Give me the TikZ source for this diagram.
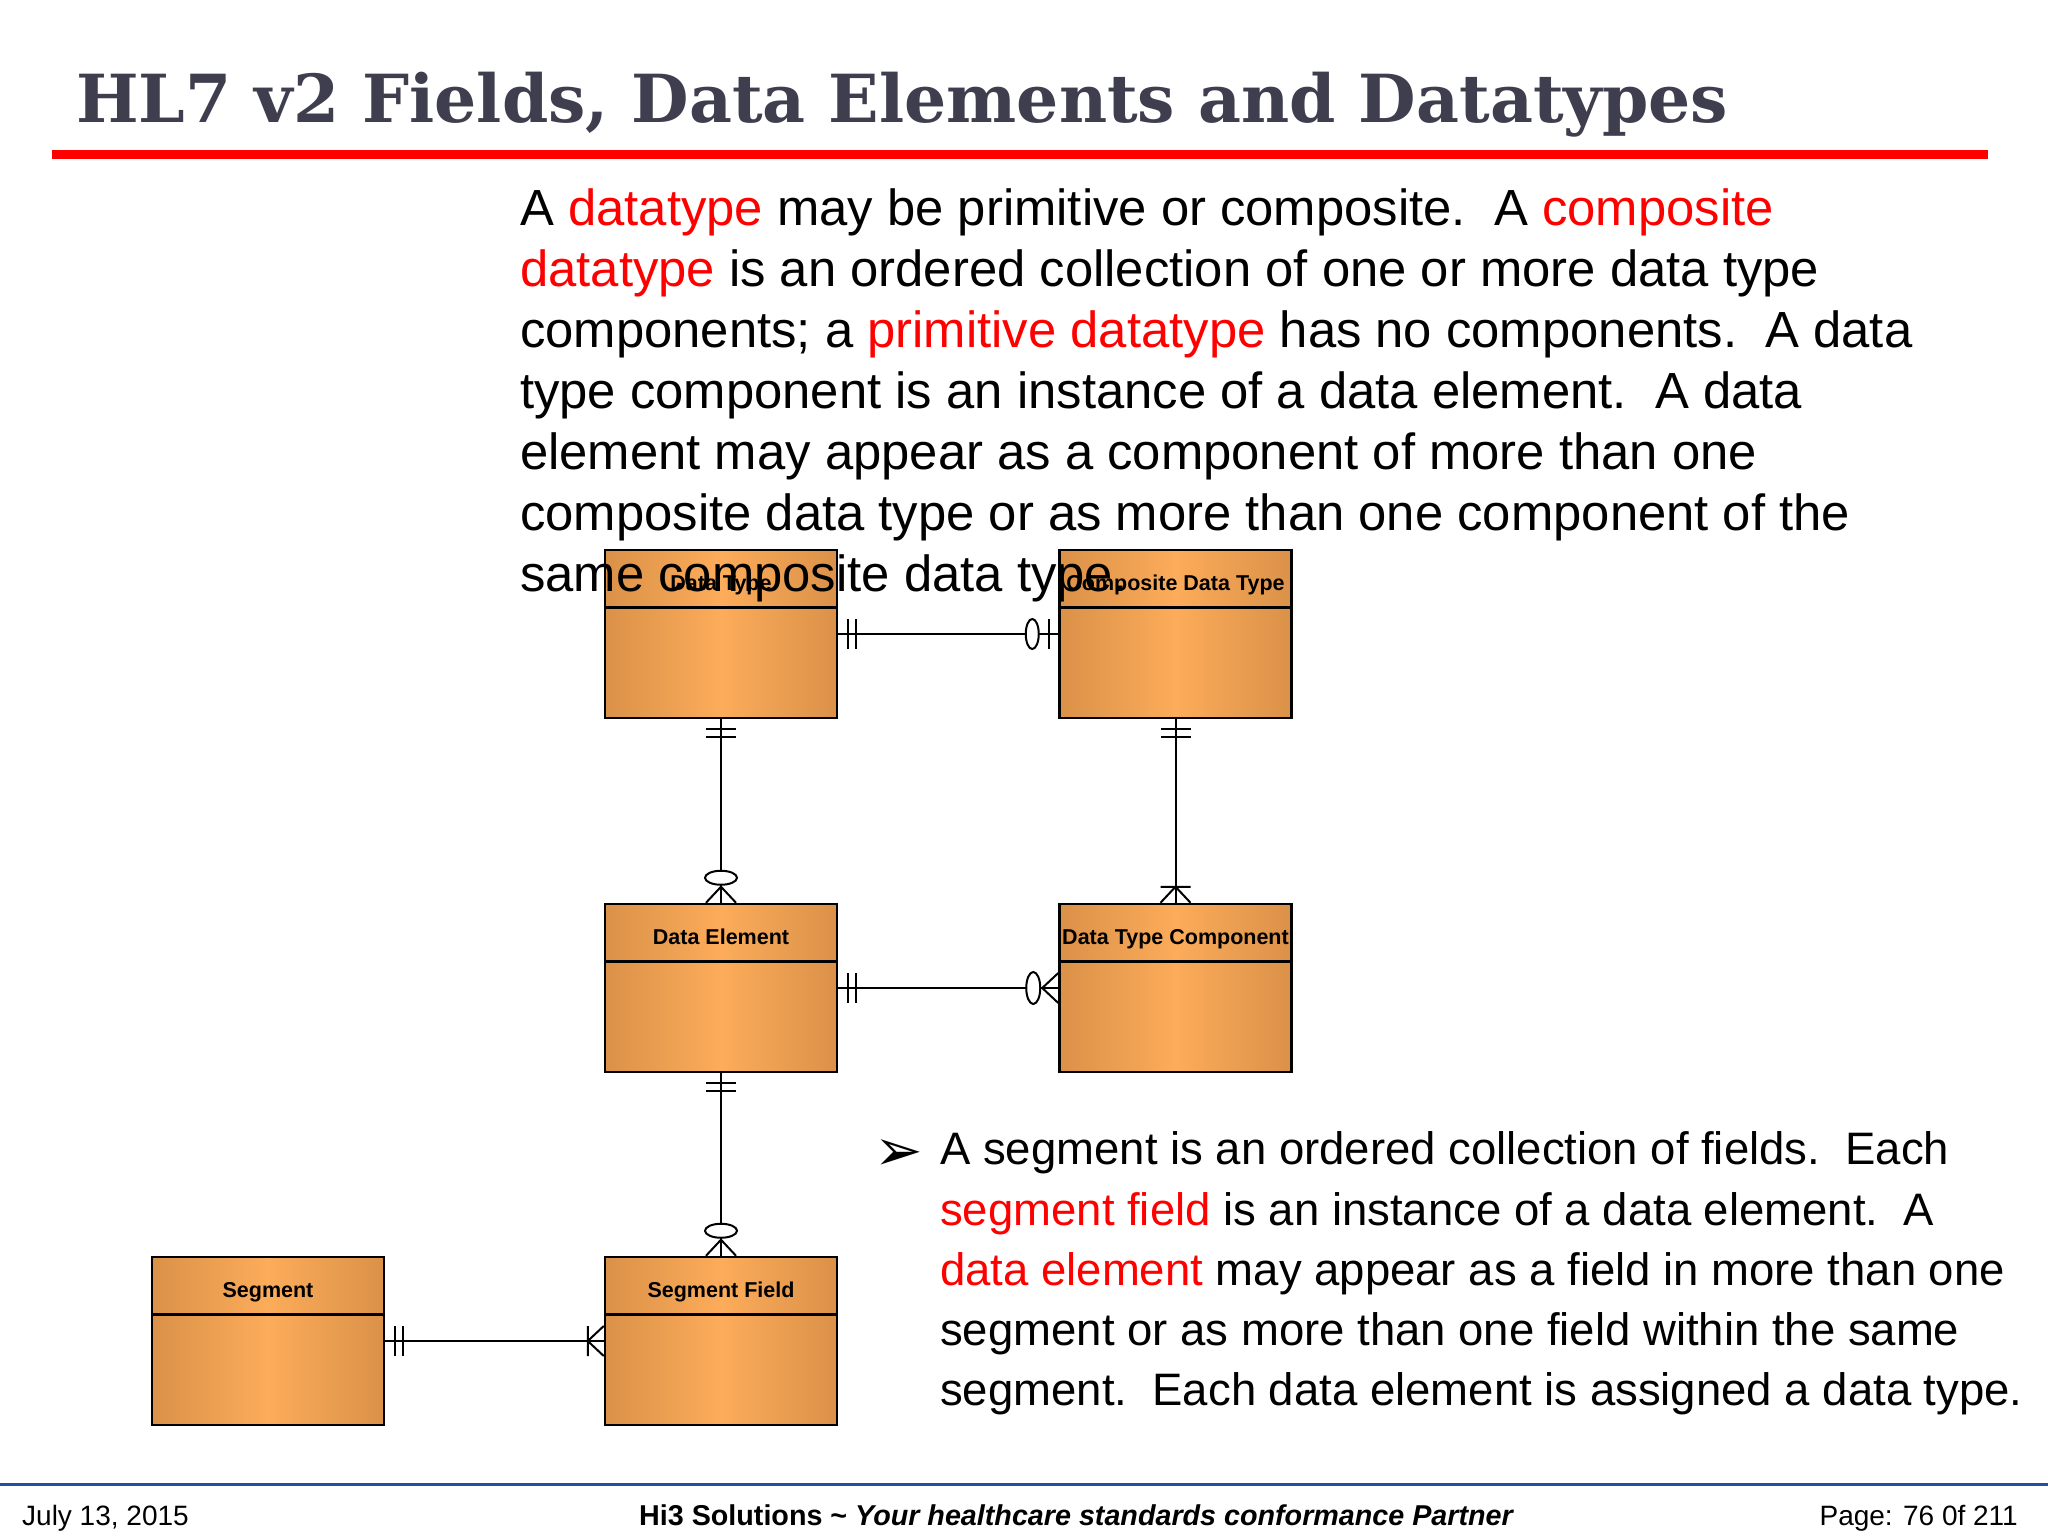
\documentclass[tikz,border=0pt]{standalone}
\usepackage{fontspec}
\setmainfont{Liberation Sans}
\newfontfamily\titlefont{DejaVu Serif}
\newfontfamily\symbolfont{DejaVu Sans}
\usetikzlibrary{decorations.markings}
\definecolor{titlegray}{RGB}{62,62,78}
\definecolor{slidered}{RGB}{255,0,0}
\definecolor{boxedge}{RGB}{218,145,72}
\definecolor{boxmid}{RGB}{252,172,90}
\definecolor{footerblue}{RGB}{32,82,158}
\newcommand{\hl}[1]{\textcolor{slidered}{#1}}
\tikzset{>=latex}
\tikzstyle{entity}=[draw, line width=2.5pt, minimum width=232pt, minimum height=168pt, inner sep=0pt,
  left color=boxedge, right color=boxedge, middle color=boxmid,
  path picture={\draw[line width=2.5pt] ([yshift=-57.5pt]path picture bounding box.north west)
    -- ([yshift=-57.5pt]path picture bounding box.north east);}]
\tikzstyle{entitylabel}=[anchor=base, inner sep=0pt, font=\bfseries\fontsize{21.5}{24}\selectfont]
\tikzstyle{bodytext}=[anchor=base west, inner sep=0pt, font=\fontsize{50.8}{61}\selectfont]
\tikzstyle{bullettext}=[anchor=base west, inner sep=0pt, font=\fontsize{45.5}{60}\selectfont]
\tikzstyle{footertext}=[inner sep=0pt, font=\fontsize{28}{30}\selectfont]
\tikzstyle{relation}=[line width=2pt]
\tikzstyle{crow}=[line width=2pt]
\newcommand{\entity}{\node[entity]}
% crow's foot ends, measured from the entity edge
\tikzset{
  one start/.style={postaction={decorate, decoration={markings,
    mark=at position 10pt with {\draw[crow] (0,-15) -- (0,15);},
    mark=at position 18pt with {\draw[crow] (0,-15) -- (0,15);}}}},
  zero one end/.style={postaction={decorate, decoration={markings,
    mark=at position -26pt with {\draw[crow, fill=white] (0,0) ellipse [x radius=6.5, y radius=15];},
    mark=at position -9pt with {\draw[crow] (0,-15) -- (0,15);}}}},
  zero many end/.style={postaction={decorate, decoration={markings,
    mark=at position -25pt with {\draw[crow, fill=white] (0,0) ellipse [x radius=7, y radius=16];},
    mark=at position -16pt with {\draw[crow] (16,-15) -- (0,0) -- (16,15);}}}},
  one many end/.style={postaction={decorate, decoration={markings,
    mark=at position -16pt with {\draw[crow] (0,-15) -- (0,15) (16,-15) -- (0,0) -- (16,15);}}}}
}

\begin{document}
\begin{tikzpicture}[x=1pt, y=-1pt]
\useasboundingbox (0,0) rectangle (2048,1536);
\fill[white] (0,0) rectangle (2048,1536);

\node[anchor=base west, inner sep=0pt, text=titlegray, font=\titlefont\bfseries\fontsize{66.3}{70}\selectfont]
  (title) at (76,123) {HL7 v2 Fields, Data Elements and Datatypes};
\draw[slidered, line width=9pt] (52,154.5) -- (1988,154.5);

\entity (dt) at (721,634) {};
\entity (cdt) at (1175.5,634) {};
\entity (de) at (721,988) {};
\entity (dtc) at (1175.5,988) {};
\entity (seg) at (268,1341) {};
\entity (sf) at (721,1341) {};

\node[entitylabel] (dt-label) at ([yshift=-42pt]dt.north) {Data Type};
\node[entitylabel] (cdt-label) at ([yshift=-42pt]cdt.north) {Composite Data Type};
\node[entitylabel] (de-label) at ([yshift=-42pt]de.north) {Data Element};
\node[entitylabel] (dtc-label) at ([yshift=-42pt]dtc.north) {Data Type Component};
\node[entitylabel] (seg-label) at ([yshift=-42pt]seg.north) {Segment};
\node[entitylabel] (sf-label) at ([yshift=-42pt]sf.north) {Segment Field};

\draw[relation]
(dt) edge[one start, zero one end] (cdt)
(dt) edge[one start, zero many end] (de)
(cdt) edge[one start, one many end] (dtc)
(de) edge[one start, zero many end] (dtc)
(de) edge[one start, zero many end] (sf)
(seg) edge[one start, one many end] (sf);

\node[bodytext] (intro1) at (520,225) {A \hl{datatype} may be primitive or composite.\ \ A \hl{composite}};
\node[bodytext] (intro2) at (520,286) {\hl{datatype} is an ordered collection of one or more data type};
\node[bodytext] (intro3) at (520,347) {components; a \hl{primitive datatype} has no components.\ \ A data};
\node[bodytext] (intro4) at (520,408) {type component is an instance of a data element.\ \ A data};
\node[bodytext] (intro5) at (520,469) {element may appear as a component of more than one};
\node[bodytext] (intro6) at (520,530) {composite data type or as more than one component of the};
\node[bodytext] (intro7) at (520,591) {same composite data type.};

\node[anchor=base west, inner sep=0pt, font=\symbolfont\fontsize{58}{58}\selectfont] (arrow) at (874,1170) {➢};
\node[bullettext] (seg1) at (940,1164) {A segment is an ordered collection of fields.\ \ Each};
\node[bullettext] (seg2) at (940,1225) {\hl{segment field} is an instance of a data element.\ \ A};
\node[bullettext] (seg3) at (940,1285) {\hl{data element} may appear as a field in more than one};
\node[bullettext] (seg4) at (940,1345) {segment or as more than one field within the same};
\node[bullettext] (seg5) at (940,1405) {segment.\ \ Each data element is assigned a data type.};

\draw[footerblue, line width=3.5pt] (0,1484.5) -- (2048,1484.5);
\node[footertext, anchor=base west] (date) at (22,1525) {July 13, 2015};
\node[footertext, anchor=base] (company) at (1076,1525) {\fontsize{28.7}{30}\selectfont\bfseries Hi3 Solutions \textasciitilde{} \itshape Your healthcare standards conformance Partner};
\node[footertext, anchor=base east] (page) at (2018,1525) {Page: 76 0f 211};
\end{tikzpicture}
\end{document}
